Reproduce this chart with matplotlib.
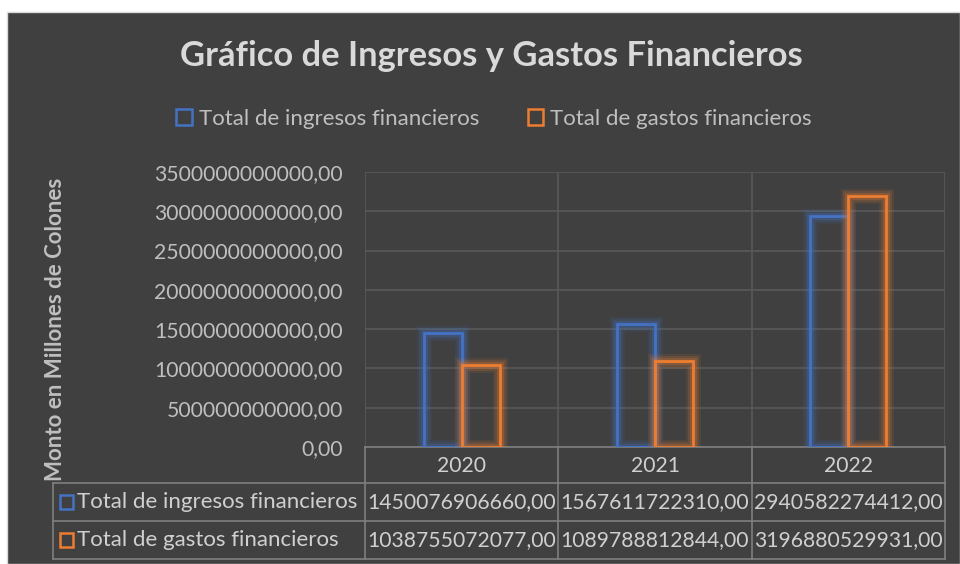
import matplotlib
matplotlib.use("Agg")
import matplotlib.pyplot as plt
import matplotlib.patheffects as pe
from matplotlib.patches import Rectangle
from matplotlib.lines import Line2D
from matplotlib.transforms import blended_transform_factory
import numpy as np

categories = ["2020", "2021", "2022"]
ingresos = [1450076906660.00, 1567611722310.00, 2940582274412.00]
gastos = [1038755072077.00, 1089788812844.00, 3196880529931.00]
series_names = ["Total de ingresos financieros", "Total de gastos financieros"]
title = "Gráfico de Ingresos y Gastos Financieros"
ylabel = "Monto en Millones de Colones"

BLUE = "#4472C4"
ORANGE = "#ED7D31"
BG = "#404040"
GRID = "#595959"
LINE = "#7F7F7F"
TXT = "#BFBFBF"
TXT2 = "#D0D0D0"
FONT = "Lato"

W, H = 960, 564
fig = plt.figure(figsize=(W / 100, H / 100), dpi=100)
fig.patch.set_facecolor("white")

def fx(x):
    return x / W

def fy(y):
    return 1 - y / H

fig.patches.append(Rectangle((fx(7), 0), 1 - fx(7), fy(12), transform=fig.transFigure,
                             facecolor=BG, edgecolor="#D9D9D9", linewidth=1, zorder=-10))

ax = fig.add_axes([fx(365), fy(447), fx(945) - fx(365), fy(172) - fy(447)])
ax.set_facecolor("none")
x = np.arange(len(categories))
bw = 0.196
glow = lambda c: [pe.Stroke(linewidth=11, foreground=c, alpha=0.10),
                  pe.Stroke(linewidth=8, foreground=c, alpha=0.15),
                  pe.Stroke(linewidth=5, foreground=c, alpha=0.25),
                  pe.Normal()]
b1 = ax.bar(x - bw / 2, ingresos, bw, facecolor="none", edgecolor=BLUE, linewidth=2, zorder=3)
b2 = ax.bar(x + bw / 2, gastos, bw, facecolor="none", edgecolor=ORANGE, linewidth=2, zorder=3)
for r in b1:
    r.set_path_effects(glow(BLUE))
for r in b2:
    r.set_path_effects(glow(ORANGE))

ax.set_xlim(-0.5, len(categories) - 0.5)
ax.set_ylim(0, 3.5e12)
ax.set_yticks(np.arange(0, 3.5e12 + 1, 0.5e12))
ax.yaxis.set_major_formatter(matplotlib.ticker.FuncFormatter(lambda v, p: f"{v:.2f}".replace(".", ",")))
ax.set_xticks(np.arange(-0.5, len(categories), 1.0))
ax.set_xticklabels([])
ax.tick_params(axis="both", length=0, labelsize=15.2, labelcolor=TXT, pad=16)
for lab in ax.get_yticklabels():
    lab.set_fontfamily(FONT)
ax.grid(True, color=GRID, linewidth=1.2, zorder=0)
for s in ["top", "right", "left"]:
    ax.spines[s].set_visible(False)
ax.spines["bottom"].set_color(LINE)
ax.spines["bottom"].set_linewidth(1.2)

# y label
fig.text(fx(56), fy(329), ylabel, rotation=90, ha="center", va="center",
         fontsize=16, fontweight="bold", color=TXT, family=FONT)

# title
fig.text(fx(491), fy(56), title, ha="center", va="center", fontsize=24.8,
         fontweight="bold", color="#D9D9D9", family=FONT)

# legend
handles = [Rectangle((0, 0), 1, 1, facecolor="none", edgecolor=c, linewidth=1.8) for c in (BLUE, ORANGE)]
leg = fig.legend(handles, series_names, loc="center", bbox_to_anchor=(fx(494), fy(119)), ncol=2,
                 frameon=False, prop={"family": FONT, "size": 16}, labelcolor=TXT,
                 handlelength=0.7, handleheight=0.7, handletextpad=0.3, columnspacing=2.2)

# data table
tr = blended_transform_factory(ax.transData, fig.transFigure)
rows_y = [447, 483, 521, 559]
lk = dict(color=LINE, linewidth=1.2, clip_on=False)
for i, c in enumerate(categories):
    fig.text(i, fy(466), c, transform=tr, ha="center", va="center", fontsize=15.2,
             color=TXT2, family=FONT)
for xv in np.arange(-0.5, len(categories), 1.0):
    fig.add_artist(Line2D([xv, xv], [fy(447), fy(559)], transform=tr, **lk))
left_px = 53
for yv in rows_y[1:]:
    fig.add_artist(Line2D([fx(left_px), fx(945)], [fy(yv), fy(yv)], transform=fig.transFigure, **lk))
fig.add_artist(Line2D([fx(left_px), fx(left_px)], [fy(483), fy(559)], transform=fig.transFigure, **lk))
for r, (name, vals, col) in enumerate(zip(series_names, [ingresos, gastos], [BLUE, ORANGE])):
    yc = (rows_y[r + 1] + rows_y[r + 2]) / 2
    fig.patches.append(Rectangle((fx(60), fy(yc + 7)), fx(13), 14 / H, transform=fig.transFigure,
                                 facecolor="none", edgecolor=col, linewidth=1.8))
    fig.text(fx(77), fy(yc), name, ha="left", va="center", fontsize=16, color=TXT2, family=FONT)
    for i, v in enumerate(vals):
        fig.text(i, fy(yc), f"{v:.2f}".replace(".", ","), transform=tr, ha="center", va="center",
                 fontsize=15.2, color=TXT2, family=FONT)

fig.savefig("out.png", dpi=100, facecolor=fig.get_facecolor())
